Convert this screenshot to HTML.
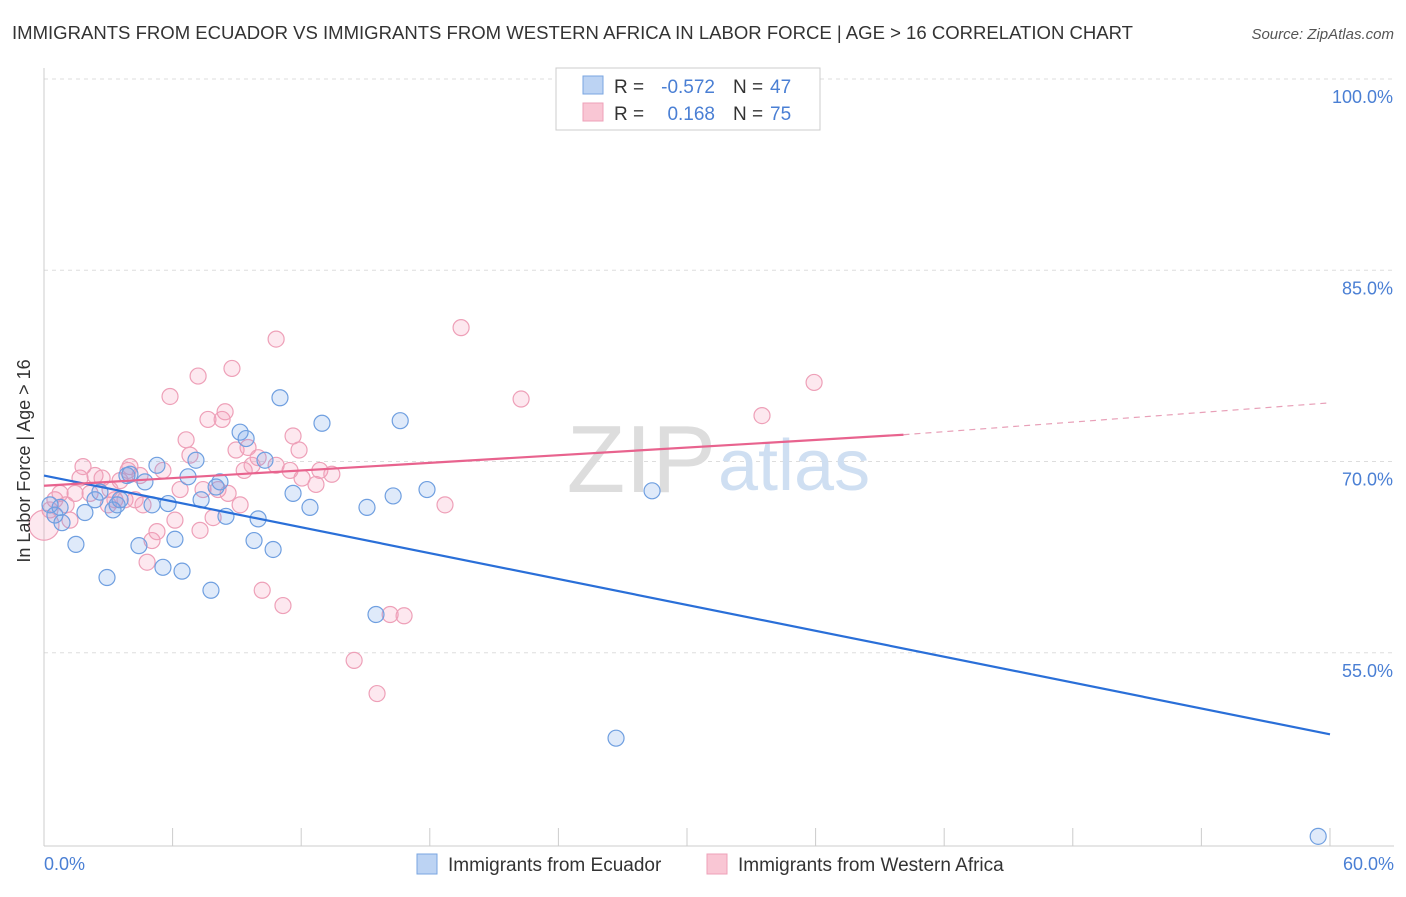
<!DOCTYPE html>
<html><head><meta charset="utf-8"><style>
body{margin:0;background:#fff;font-family:"Liberation Sans",sans-serif}
svg text{font-family:"Liberation Sans",sans-serif}
</style></head><body>
<svg width="1406" height="892" xmlns="http://www.w3.org/2000/svg">
<text x="12" y="39" font-size="18" fill="#333" textLength="1121" lengthAdjust="spacingAndGlyphs">IMMIGRANTS FROM ECUADOR VS IMMIGRANTS FROM WESTERN AFRICA IN LABOR FORCE | AGE &gt; 16 CORRELATION CHART</text>
<text x="1394" y="39" font-size="15" fill="#555" font-style="italic" text-anchor="end">Source: ZipAtlas.com</text>
<g id="grid"></g>
<text x="716" y="492" font-size="96" fill="#ddd" text-anchor="end" font-family="Liberation Serif">ZIP</text>
<text x="718" y="490" font-size="72" fill="#cfdff2">atlas</text>
<g id="marks"></g>
<text x="24" y="455" font-size="18" fill="#333" transform="rotate(-90 30 455)" text-anchor="middle">In Labor Force | Age &gt; 16</text>
<text x="44" y="870" font-size="18" fill="#4a7fd4">0.0%</text>
<text x="1394" y="870" font-size="18" fill="#4a7fd4" text-anchor="end">60.0%</text>
<g>
<rect x="556" y="68" width="264" height="62" fill="#fff" stroke="#ccc"/>
<rect x="583" y="76" width="20" height="18" fill="#bcd3f3" stroke="#7aa6e0"/>
<rect x="583" y="103" width="20" height="18" fill="#f9c6d4" stroke="#eea0b8"/>
<text x="614" y="93" font-size="19" fill="#333">R =</text>
<text x="715" y="93" font-size="19" fill="#4a7fd4" text-anchor="end">-0.572</text>
<text x="733" y="93" font-size="19" fill="#333">N =</text>
<text x="770" y="93" font-size="19" fill="#4a7fd4">47</text>
<text x="614" y="120" font-size="19" fill="#333">R =</text>
<text x="715" y="120" font-size="19" fill="#4a7fd4" text-anchor="end">0.168</text>
<text x="733" y="120" font-size="19" fill="#333">N =</text>
<text x="770" y="120" font-size="19" fill="#4a7fd4">75</text>
</g>
<g>
<rect x="417" y="854" width="20" height="20" fill="#bcd3f3" stroke="#7aa6e0"/>
<text x="448" y="871" font-size="19" fill="#333">Immigrants from Ecuador</text>
<rect x="707" y="854" width="20" height="20" fill="#f9c6d4" stroke="#eea0b8"/>
<text x="738" y="871" font-size="19" fill="#333">Immigrants from Western Africa</text>
</g>
</svg>
<script>
const yTicks=[100,85,70,55];
const yTickLabels=["100.0%","85.0%","70.0%","55.0%"];
const xTicks=[0,6,12,18,24,30,36,42,48,54,60];
const blueX=[0.28,0.51,0.84,1.49,1.91,2.38,2.61,2.94,3.22,3.41,3.87,4.01,4.43,4.71,5.04,5.27,5.55,5.79,6.11,6.44,6.72,7.09,7.33,7.79,8.03,8.21,8.49,9.15,9.43,9.80,9.99,10.31,10.69,11.01,11.62,12.41,12.97,15.07,15.49,16.29,16.62,17.87,26.69,28.37,59.45,0.75,3.55];
const blueY=[66.6,65.8,65.2,63.5,66.0,67.0,67.6,60.9,66.2,66.6,68.9,69.0,63.4,68.4,66.6,69.7,61.7,66.7,63.9,61.4,68.8,70.1,67.0,59.9,68.0,68.4,65.7,72.3,71.8,63.8,65.5,70.1,63.1,75.0,67.5,66.4,73.0,66.4,58.0,67.3,73.2,67.8,48.3,67.7,40.6,66.4,67.0];
const pinkX=[0.51,0.75,1.21,1.45,1.68,1.82,2.15,2.38,2.71,3.0,3.31,3.55,3.78,4.01,4.25,4.48,4.62,4.81,5.04,5.27,5.55,5.88,6.11,6.35,6.63,6.81,7.19,7.42,7.65,7.89,8.12,8.31,8.45,8.59,8.77,8.96,9.15,9.34,9.52,9.71,9.99,10.18,10.83,10.83,11.15,11.48,11.62,11.9,12.04,12.69,12.87,13.43,14.47,15.54,16.15,16.8,18.71,19.46,22.26,33.5,35.93,0.28,1.03,3.08,3.92,7.28];
const pinkY=[67.0,67.5,65.4,67.5,68.7,69.6,67.5,68.9,68.7,66.6,67.0,68.5,67.0,69.6,67.0,68.9,66.6,62.1,63.8,64.5,69.3,75.1,65.4,67.8,71.7,70.5,76.7,67.8,73.3,65.6,67.8,73.3,73.9,67.5,77.3,70.9,66.6,69.3,71.1,69.7,70.3,59.9,69.7,79.6,58.7,69.3,72.0,70.9,68.7,68.2,69.3,69.0,54.4,51.8,58.0,57.9,66.6,80.5,74.9,73.6,76.2,66.2,66.6,67.8,69.3,64.6];
const bigPink=[[0,65.0]];
const blueTrend=[[0,68.9],[60,48.6]];
const pinkTrend=[[0,68.1],[40.1,72.1],[60,74.6]];
const NS="http://www.w3.org/2000/svg";
const X=v=>44+v*21.433, Y=v=>79+(100-v)*12.75;
function mk(t,a,p){const e=document.createElementNS(NS,t);for(const k in a)e.setAttribute(k,a[k]);p.appendChild(e);return e;}
const g=document.getElementById('grid'), m=document.getElementById('marks');
yTicks.forEach((t,i)=>{
 const l=mk('line',{x1:44,x2:1394,y1:Y(t),y2:Y(t),stroke:'#ddd','stroke-dasharray':'4 4'},g);
 
 
 const tx=mk('text',{x:1393,y:Y(t)+24,'font-size':18,fill:'#4a7fd4','text-anchor':'end'},g);
 tx.textContent=yTickLabels[i];
 
 
});
const ax=mk('line',{x1:44,x2:44,y1:68,y2:846,stroke:'#ccc'},g);


const bx=mk('line',{x1:44,x2:1394,y1:846,y2:846,stroke:'#ccc'},g);


xTicks.forEach(t=>{
 const l=mk('line',{x1:X(t),x2:X(t),y1:828,y2:846,stroke:'#ccc'},g);
 
 
});
function dots(xs,ys,fill,stroke,r,name){
 xs.forEach((x,i)=>{
  const c=mk('circle',{cx:X(x),cy:Y(ys[i]),r:r,fill:fill,stroke:stroke,'stroke-width':1.2},m);
  
  
 });
}
dots(pinkX,pinkY,'rgba(244,150,180,0.22)','#eea0b8',8,'western-africa-point');
dots(bigPink.map(p=>p[0]),bigPink.map(p=>p[1]),'rgba(244,150,180,0.22)','#eea0b8',15,'western-africa-point');
dots(blueX,blueY,'rgba(110,160,230,0.22)','#6f9fe0',8,'ecuador-point');
const bl=mk('line',{x1:X(blueTrend[0][0]),y1:Y(blueTrend[0][1]),x2:X(blueTrend[1][0]),y2:Y(blueTrend[1][1]),stroke:'#2a6fd8','stroke-width':2.2},m);


const pl=mk('line',{x1:X(pinkTrend[0][0]),y1:Y(pinkTrend[0][1]),x2:X(pinkTrend[1][0]),y2:Y(pinkTrend[1][1]),stroke:'#e8638e','stroke-width':2.2},m);


const pd=mk('line',{x1:X(pinkTrend[1][0]),y1:Y(pinkTrend[1][1]),x2:X(pinkTrend[2][0]),y2:Y(pinkTrend[2][1]),stroke:'#e8a0b8','stroke-width':1.2,'stroke-dasharray':'6 5'},m);


</script>
</body></html>
